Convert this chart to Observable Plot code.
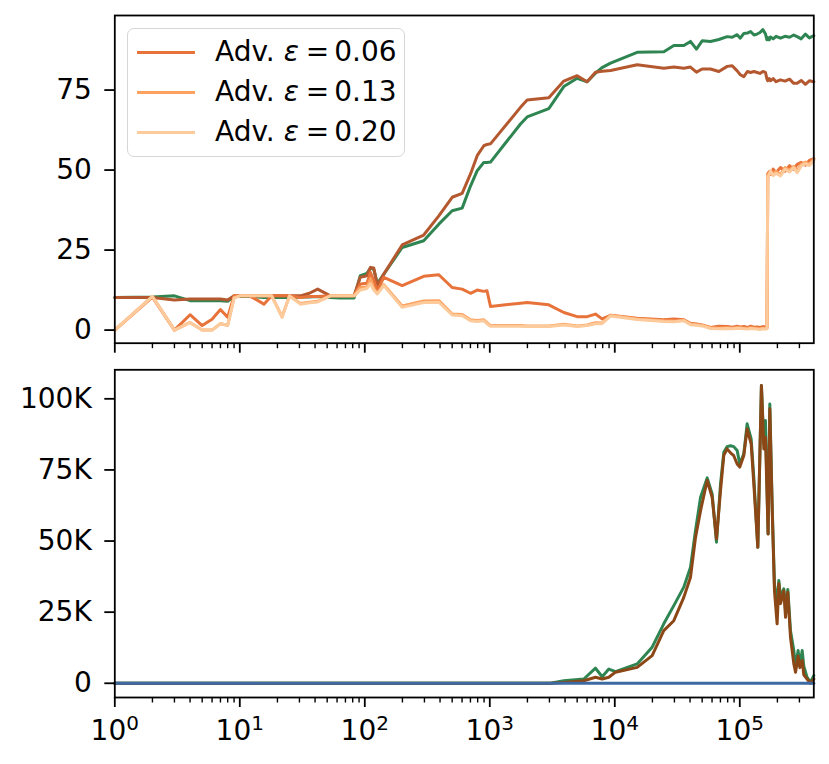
<!DOCTYPE html>
<html>
<head>
<meta charset="utf-8">
<script src="https://cdn.jsdelivr.net/npm/d3@7"></script>
<script src="https://cdn.jsdelivr.net/npm/@observablehq/plot@0.6"></script>
<style>
  html, body { margin: 0; padding: 0; background: white; }
  #wrap { position: relative; width: 829px; height: 764px; font-family: "DejaVu Sans", sans-serif; }
  #wrap svg { display: block; }
  #legend { position: absolute; left: 127px; top: 28px; width: 276px; height: 127px;
    border: 1.5px solid #d6d6d6; border-radius: 7px; background: rgba(255,255,255,0.85); box-sizing: content-box; }
  .item { position: absolute; left: 0; height: 40px; width: 276px; }
  .swatch { position: absolute; left: 9px; width: 58px; height: 3px; top: 19px; }
  .lab { position: absolute; left: 87px; top: 0; line-height: 40px; font-size: 28px; color: #000; white-space: nowrap; }
  .lab i { font-style: italic; }
  .lab .eq { margin: 0 5px 0 7px; }
</style>
</head>
<body>
<div id="wrap">
  <div id="top"></div>
  <div id="bot"></div>
  <div id="legend"></div>
</div>
<script>
// ---------- data ----------
const topX = [1,2,3,4,5,6,7,8,9,10,
  12,15.6,18,21.8,25,30.5,36,42,53,63,
  72,82,92,104,111,118,126,142,199,296,
  391,500,601,701,793,896,950,1013,1760,1990,
  2966,3909,4999,6010,7010,7900,9250,15100,24700,29700,
  35700,40300,45000,50000,58300,68000,79300,87000,95300,101000,
  107800,115000,122000,130000,137600,145000,153000,160600,165000,167500,
  172000,176000,185000,195000,211600,230000,250000,270000,287700,310000,
  335000,360000,391000];

const topClean = [10.2,10.3,10.7,9.2,9.2,9.2,9.2,9.0,10.5,10.5,
  10.5,10.2,10.2,10.2,10.2,10.3,10.3,10.5,10.2,10.0,
  10.0,10.0,17.0,17.7,19.4,19.0,14.5,17.5,25.8,27.9,
  33.1,37.3,38.1,45.0,49.8,52.4,52.4,52.5,64.4,66.6,
  69.2,76.1,78.7,77.6,80.3,82.0,83.4,86.8,87.0,88.9,
  88.9,90.2,87.8,90.4,90.2,90.8,91.7,91.5,92.3,91.2,
  92.7,92.8,93.3,92.2,92.5,93.0,93.9,92.5,90.7,91.4,
  90.7,91.6,91.0,91.8,91.2,91.8,91.5,92.2,91.7,91.0,
  92.5,91.3,92.0];

const topBrown = [10.2,10.2,9.4,9.7,9.7,9.7,9.7,9.4,10.7,10.7,
  10.7,10.7,10.7,10.7,10.7,10.7,11.5,12.8,10.7,10.7,
  10.7,10.7,16.5,17.0,19.6,19.4,13.9,17.5,26.6,29.7,
  35.7,41.5,42.7,48.8,54.5,57.6,58.0,58.2,69.6,71.9,
  72.6,77.8,79.5,77.6,80.6,80.9,81.1,82.9,81.8,82.2,
  81.8,82.2,80.6,81.6,81.6,80.8,82.4,82.6,81.0,79.8,
  79.2,80.8,80.5,80.8,80.5,80.2,80.8,80.5,78.4,77.9,
  78.6,77.9,78.6,77.6,78.2,77.8,78.4,77.1,77.1,78.0,
  76.8,77.9,77.6];

const topAdv06 = [0,10.3,0,4.8,1.4,3.4,6.4,4.0,10.7,10.7,
  10.7,8.1,10.7,10.7,10.7,10.2,10.5,10.5,10.7,10.7,
  10.7,10.7,14.4,14.6,18.0,15.5,12.3,16.5,13.9,16.8,
  17.3,13.3,12.8,11.5,12.5,12.1,12.3,7.4,8.4,8.6,
  7.9,5.5,4.2,4.2,5.0,3.5,4.6,3.7,3.2,3.5,
  3.2,2.1,1.9,1.6,0.8,1.2,1.1,0.9,1.2,1.0,
  1.1,0.8,1.2,0.9,1.0,0.8,1.1,1.0,0.9,48.8,
  49.5,48.6,50.3,49.2,50.8,49.6,51.4,50.2,51.8,52.4,
  51.5,53.0,53.6];

const topAdv13 = [0,10.5,0,2.4,0,0,2.0,1.5,10.2,10.7,
  10.7,10.7,10.7,4.2,10.7,8.3,8.7,9.0,10.7,10.7,
  10.7,10.7,13.3,13.5,16.0,13.0,11.5,14.2,7.5,9.1,
  9.2,5.0,4.9,3.2,3.0,3.2,2.3,1.4,1.4,1.3,
  1.3,1.8,1.3,1.6,2.3,2.2,4.6,3.5,2.9,2.8,
  3.1,1.9,1.7,1.5,0.7,0.6,0.7,0.6,0.8,0.7,
  0.6,0.5,0.7,0.6,0.5,0.4,0.6,0.5,0.6,48.4,
  49.0,49.3,48.8,49.6,48.6,50.8,49.9,51.2,49.7,51.8,
  52.5,51.8,53.4];

const topAdv20 = [0,10.5,0,2.4,0,0,2.0,1.5,10.0,10.7,
  10.7,10.7,10.7,4.0,10.7,8.1,8.5,8.8,10.7,10.7,
  10.7,10.7,12.5,13.0,14.5,12.5,11.3,13.9,7.1,8.6,
  8.7,4.7,4.5,2.9,2.7,2.9,2.0,1.2,1.2,1.1,
  1.1,1.6,1.1,1.4,2.0,2.0,4.4,3.3,2.7,2.6,
  2.9,1.7,1.5,1.3,0.5,0.4,0.5,0.4,0.6,0.5,
  0.4,0.3,0.5,0.4,0.3,0.2,0.4,0.3,0.4,48.0,
  48.6,49.8,48.3,49.0,48.2,50.3,49.4,50.8,49.2,51.3,
  52.0,51.4,53.0];

const botX = [1,100,1000,3060,3910,5650,7010,7930,8960,10130,
  15100,19900,24650,29650,35650,40350,44250,48550,54850,60100,
  65100,70150,74500,79250,84300,89500,95300,100000,107700,114500,
  123300,129500,139400,149000,155700,160500,168500,173900,181500,189400,
  198900,205300,211800,225100,232300,242300,254500,270600,279300,293000,
  302500,315800,325200,345600,367700,391000];

const botClean = [0,0,0,0,0.9,1.5,5.3,2.3,5.0,4.1,
  6.8,12.7,20.9,27.3,33.8,40.8,53.7,65.4,72.2,66.6,
  49.6,70.1,81.2,83.2,83.5,83.2,81.8,77.1,80.7,91.2,
  85.9,72.4,47.8,104.7,84.2,92.4,52.5,98.2,63.0,34.9,
  27.9,36.1,30.2,33.2,25.6,33.0,18.5,11.5,5.6,11.5,
  6.0,11.5,6.0,2.1,0.4,2.7];

const botBrown = [0,0,0,0,0.3,0.9,2.1,1.5,2.1,3.9,
  5.6,9.7,18.5,22.0,30.2,37.3,51.3,60.7,71.3,65.4,
  50.8,67.8,80.1,82.4,81.0,80.0,77.1,76.0,80.1,89.4,
  84.2,70.1,47.8,104.7,82.4,86.5,52.5,96.5,61.8,32.6,
  20.9,35.0,28.0,32.5,23.2,32.0,16.2,6.8,3.9,9.5,
  5.5,8.0,3.0,1.5,0.0,1.5];

const botBlueX = [1, 391000];
const botBlue = [0, 0];

const legendLabels = ["0.06", "0.13", "0.20"];
const majorTicks = [1, 10, 100, 1000, 10000, 100000];
const minorMult = [2,3,4,5,6,7,8,9];
const topYTicks = [0, 25, 50, 75];
const botYTicks = [0, 25, 50, 75, 100]; // thousands

// ---------- styles ----------
const C = {
  clean: "#2f8552", brown: "#b4582f", brownDark: "#8c4716",
  a06: "#e8733a", a13: "#fca25e", a20: "#fdca9c", blue: "#3d6aa2"
};
const minorTicks = [];
majorTicks.forEach(m => minorMult.forEach(k => { if (m*k <= 391000) minorTicks.push(m*k); }));
const fmtPow = d => "10^" + String(Math.round(Math.log10(d)));

const pts = (xs, ys) => xs.map((x, i) => ({x, y: ys[i]}));
const SW = 3;
const common = {
  width: 829,
  marginLeft: 114.3, marginRight: 15.7,
  x: {type: "log", domain: [1, 391000]},
  style: {fontFamily: "DejaVu Sans", fontSize: "28px", color: "black", background: "white", overflow: "visible"}
};

const topPlot = Plot.plot({
  ...common,
  height: 356, marginTop: 15, marginBottom: 13.3,
  y: {domain: [-4.1, 98.3]},
  marks: [
    Plot.line(pts(topX, topClean), {x: "x", y: "y", stroke: C.clean, strokeWidth: SW}),
    Plot.line(pts(topX, topBrown), {x: "x", y: "y", stroke: C.brown, strokeWidth: SW}),
    Plot.line(pts(topX, topAdv06), {x: "x", y: "y", stroke: C.a06, strokeWidth: SW}),
    Plot.line(pts(topX, topAdv13), {x: "x", y: "y", stroke: C.a13, strokeWidth: SW}),
    Plot.line(pts(topX, topAdv20), {x: "x", y: "y", stroke: C.a20, strokeWidth: SW}),
    Plot.frame({stroke: "black", strokeWidth: 1.8}),
    Plot.axisY({ticks: topYTicks, tickSize: 10, tickPadding: 13, tickFormat: d => String(d), label: null, strokeWidth: 1.8, fontSize: 28}),
    Plot.axisX({ticks: majorTicks, tickSize: 10, tickFormat: () => "", label: null, strokeWidth: 1.8}),
    Plot.axisX({ticks: minorTicks, tickSize: 5.5, tickFormat: () => "", label: null, strokeWidth: 1.4})
  ]
});

const botPlot = Plot.plot({
  ...common,
  height: 408, marginTop: 13.3, marginBottom: 67,
  y: {domain: [-5.0, 110.2]},
  marks: [
    Plot.line(pts(botX, botClean), {x: "x", y: "y", stroke: C.clean, strokeWidth: SW}),
    Plot.line(pts(botX, botBrown), {x: "x", y: "y", stroke: C.brownDark, strokeWidth: SW}),
    Plot.line(pts(botBlueX, botBlue), {x: "x", y: "y", stroke: C.blue, strokeWidth: SW}),
    Plot.frame({stroke: "black", strokeWidth: 1.8}),
    Plot.axisY({ticks: botYTicks, tickSize: 10, tickPadding: 13, tickFormat: d => d === 0 ? "0" : d + "K", label: null, strokeWidth: 1.8, fontSize: 28}),
    Plot.axisX({ticks: majorTicks, tickSize: 10, tickPadding: 13, tickFormat: fmtPow, label: null, strokeWidth: 1.8, fontSize: 28}),
    Plot.axisX({ticks: minorTicks, tickSize: 5.5, tickFormat: () => "", label: null, strokeWidth: 1.4})
  ]
});

// superscript exponents on the log tick labels
d3.select(botPlot).selectAll("text").each(function() {
  const s = this.textContent;
  const m = /^10\^(\d+)$/.exec(s);
  if (!m) return;
  const el = d3.select(this);
  el.text("10");
  el.append("tspan").attr("font-size", 20).attr("dy", "-10").text(m[1]);
});

document.getElementById("top").appendChild(topPlot);
document.getElementById("bot").appendChild(botPlot);

// legend
const lg = document.getElementById("legend");
const lgColors = [C.a06, C.a13, C.a20];
legendLabels.forEach((l, i) => {
  const it = document.createElement("div");
  it.className = "item";
  it.style.top = (3 + i * 40) + "px";
  const sw = document.createElement("div");
  sw.className = "swatch"; sw.style.background = lgColors[i];
  const t = document.createElement("div");
  t.className = "lab";
  t.innerHTML = "Adv. <i>ε</i><span class=\"eq\">=</span>" + l;
  it.appendChild(sw); it.appendChild(t);
  lg.appendChild(it);
});
</script>
</body>
</html>
